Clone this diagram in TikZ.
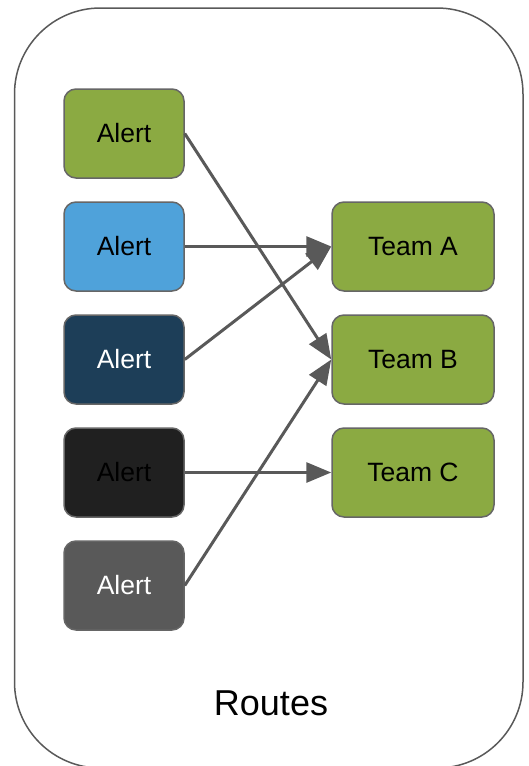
\documentclass[tikz,border=0pt]{standalone}
\usepackage{fontspec}
\setmainfont{Liberation Sans}
\usetikzlibrary{arrows.meta}
\definecolor{gr}{HTML}{8BAA42}
\definecolor{bl}{HTML}{4FA2DA}
\definecolor{nv}{HTML}{1D3E58}
\definecolor{bk}{HTML}{202020}
\definecolor{gy}{HTML}{595959}
\definecolor{bd}{HTML}{666666}
\definecolor{ar}{HTML}{595959}
\tikzset{
  box/.style={draw=bd, line width=1.5pt, rounded corners=12pt, minimum height=89pt,
    inner sep=0pt, font=\fontsize{26.5}{30}\selectfont},
  alertbox/.style={box, minimum width=120pt},
  teambox/.style={box, minimum width=162pt, fill=gr, text=black},
  arr/.style={draw=ar, line width=3pt, -{Triangle[length=25pt,width=20pt]}, shorten >=0pt},
}
\begin{document}
\begin{tikzpicture}[x=1pt,y=-1pt]
\useasboundingbox (0,0) rectangle (529,766);
\draw[draw=gy, line width=1.5pt, rounded corners=86pt] (14.5,8) rectangle (523,768);
\node[alertbox, fill=gr, text=black] (a1) at (124,133.5) {Alert};
\node[alertbox, fill=bl, text=black] (a2) at (124,246.5) {Alert};
\node[alertbox, fill=nv, text=white] (a3) at (124,359.5) {Alert};
\node[alertbox, fill=bk, text=black] (a4) at (124,472.5) {Alert};
\node[alertbox, fill=gy, text=white] (a5) at (124,585.5) {Alert};
\node[teambox] (ta) at (413,246.5) {Team A};
\node[teambox] (tb) at (413,359.5) {Team B};
\node[teambox] (tc) at (413,472.5) {Team C};
\node[font=\fontsize{36}{40}\selectfont] (rt) at (271,703) {Routes};
\draw[arr] (a1.east) -- (tb.west);
\draw[arr] (a2.east) -- (ta.west);
\draw[arr] (a3.east) -- (ta.west);
\draw[arr] (a4.east) -- (tc.west);
\draw[arr] (a5.east) -- (tb.west);
\end{tikzpicture}
\end{document}
